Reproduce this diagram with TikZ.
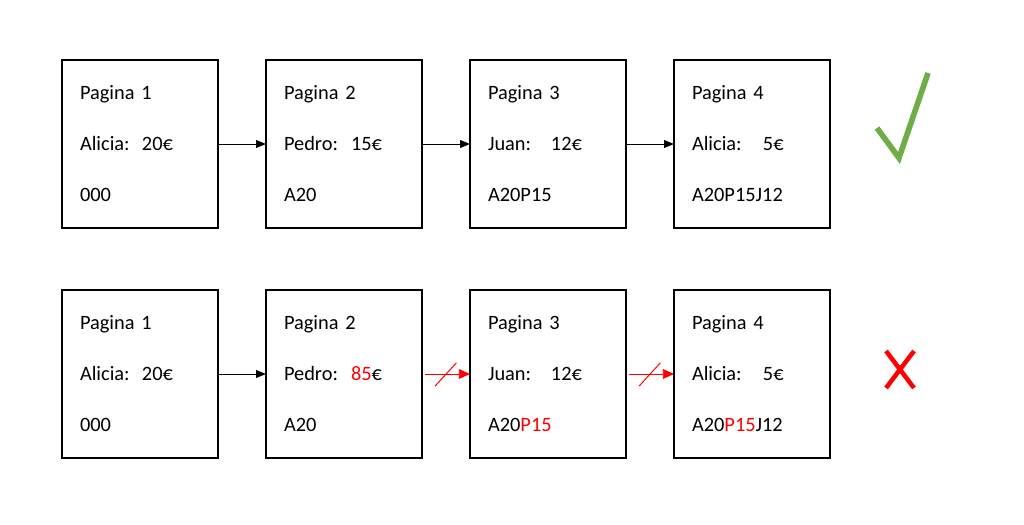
\documentclass[tikz,border=0pt]{standalone}
\usepackage{fontspec}
\setmainfont{Carlito}
\usetikzlibrary{positioning,arrows.meta,calc}
\definecolor{okgreen}{RGB}{112,173,71}
\newcommand{\pago}[3]{\makebox[#2][l]{#1}#3}
\begin{document}
\begin{tikzpicture}[
			> = {Triangle[length=7pt,width=5.5pt]}, % arrow head style
			node distance = 1.55cm and 1.2cm, % distance between pages
			font={\fontsize{14.5}{36.3}\selectfont}
			]
			
			\tikzstyle{pagina}=[
			draw = black,
			line width = 1.4pt,
			minimum width = 3.9cm,
			minimum height = 4.2cm,
			inner xsep = 0.45cm,
			text width = 3cm,
			align = left,
			outer sep = 0pt
			]
			\tikzstyle{cadena}=[->, line width=0.7pt]
			\tikzstyle{rota}=[cadena, red, shorten <=2pt, > = {Triangle[length=8pt,width=7pt]}]
			
			\useasboundingbox (0,0) rectangle (25.6,13.1);
			
			% valid chain
			\node[pagina] (p1) at (3.5,9.5) {Pagina 1\\\pago{Alicia:}{1.55cm}{20€}\\000};
			\node[pagina] (p2) [right=of p1] {Pagina 2\\\pago{Pedro:}{1.675cm}{15€}\\A20};
			\node[pagina] (p3) [right=of p2] {Pagina 3\\\pago{Juan:}{1.575cm}{12€}\\A20P15};
			\node[pagina] (p4) [right=of p3] {Pagina 4\\\pago{Alicia:}{1.775cm}{5€}\\A20P15J12};
			
			% tampered chain
			\node[pagina] (q1) [below=of p1] {Pagina 1\\\pago{Alicia:}{1.55cm}{20€}\\000};
			\node[pagina] (q2) [right=of q1] {Pagina 2\\\pago{Pedro:}{1.675cm}{\textcolor{red}{85}€}\\A20};
			\node[pagina] (q3) [right=of q2] {Pagina 3\\\pago{Juan:}{1.575cm}{12€}\\A20\textcolor{red}{P15}};
			\node[pagina] (q4) [right=of q3] {Pagina 4\\\pago{Alicia:}{1.775cm}{5€}\\A20\textcolor{red}{P15}J12};
			
			\draw[cadena] (p1) -- (p2);
			\draw[cadena] (p2) -- (p3);
			\draw[cadena] (p3) -- (p4);
			\draw[cadena] (q1) -- (q2);
			\draw[rota] (q2) -- coordinate[midway] (m23) (q3);
			\draw[rota] (q3) -- coordinate[midway] (m34) (q4);
			
			% broken links
			\draw[red, line width=0.7pt] ($(m23)+(-0.27,-0.3)$) -- ($(m23)+(0.26,0.28)$);
			\draw[red, line width=0.7pt] ($(m34)+(-0.27,-0.3)$) -- ($(m34)+(0.26,0.28)$);
			
			% check and cross
			\draw[okgreen, line width=4pt] (21.925,9.9) -- (22.475,9.15) -- (23.2,11.275);
			\draw[red, line width=3.2pt] (22.15,4.325) -- (22.85,3.4);
			\draw[red, line width=3.2pt] (22.85,4.325) -- (22.15,3.4);
			
		\end{tikzpicture}
\end{document}
